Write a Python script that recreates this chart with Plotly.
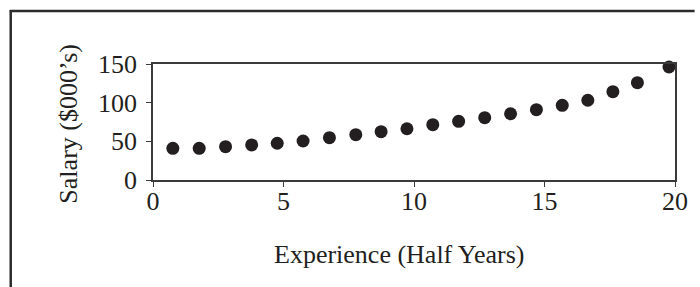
import plotly.graph_objects as go

# Data
experience = [0.76, 1.77, 2.78, 3.78, 4.76, 5.75, 6.76, 7.77, 8.74, 9.73,
              10.72, 11.71, 12.71, 13.70, 14.69, 15.68, 16.66, 17.62, 18.56, 19.77]
salary = [41.0, 41.0, 43.1, 45.3, 47.5, 50.4, 54.7, 58.6, 62.5, 66.3,
          71.5, 75.9, 80.6, 85.7, 90.9, 96.6, 103.1, 114.2, 125.8, 146.1]
x_ticks = [0, 5, 10, 15, 20]
y_ticks = [0, 50, 100, 150]
x_title = "Experience (Half Years)"
y_title = "Salary ($000’s)"

W, H = 700, 287
L, R, T, B = 153, 685, 64, 180
FONT = "Liberation Serif, Times New Roman, serif"
INK = "#231f20"
LINE = "#3a3a3a"

fig = go.Figure()
fig.add_trace(go.Scatter(
    x=experience, y=salary, mode="markers",
    marker=dict(size=13, color=INK, line=dict(width=0)),
    cliponaxis=False, showlegend=False,
))

axis_common = dict(
    showgrid=False, zeroline=False, showline=True, linecolor=LINE, linewidth=1.5,
    mirror=True, ticks="outside", ticklen=5, tickwidth=1.2, tickcolor=LINE,
    tickfont=dict(family=FONT, size=26, color=INK),
)
fig.update_xaxes(range=[0, 20], tickvals=x_ticks, ticklabelstandoff=-8, **axis_common)
fig.update_yaxes(range=[0, 150], tickvals=y_ticks, ticklabelstandoff=4, **axis_common)

pw, ph = R - L, B - T


def px_x(v):
    return (v - L) / pw


def px_y(v):
    return (B - v) / ph


fig.update_layout(
    width=W, height=H,
    margin=dict(l=L, r=W - R, t=T, b=H - B, pad=0),
    paper_bgcolor="white", plot_bgcolor="white",
    font=dict(family=FONT, color=INK),
    annotations=[
        dict(text=x_title, x=px_x(404), y=px_y(254), xref="paper", yref="paper",
             showarrow=False, font=dict(family=FONT, size=26, color=INK),
             xanchor="center", yanchor="middle"),
        dict(text=y_title, x=px_x(66), y=px_y(124), xref="paper", yref="paper",
             textangle=-90, showarrow=False,
             font=dict(family=FONT, size=26, color=INK),
             xanchor="center", yanchor="middle"),
    ],
)

# outer frame (top and left edges visible)
fig.add_shape(type="line", xref="paper", yref="paper",
              x0=px_x(7), x1=px_x(W + 5), y0=px_y(11), y1=px_y(11),
              line=dict(color="#2b2b2b", width=2.5))
fig.add_shape(type="line", xref="paper", yref="paper",
              x0=px_x(8), x1=px_x(8), y0=px_y(10), y1=px_y(H + 5),
              line=dict(color="#2b2b2b", width=2.5))

fig.write_html(
    "out.html",
    config={"displayModeBar": False},
    post_script="document.body.style.margin='0';document.body.style.overflow='hidden';",
)
